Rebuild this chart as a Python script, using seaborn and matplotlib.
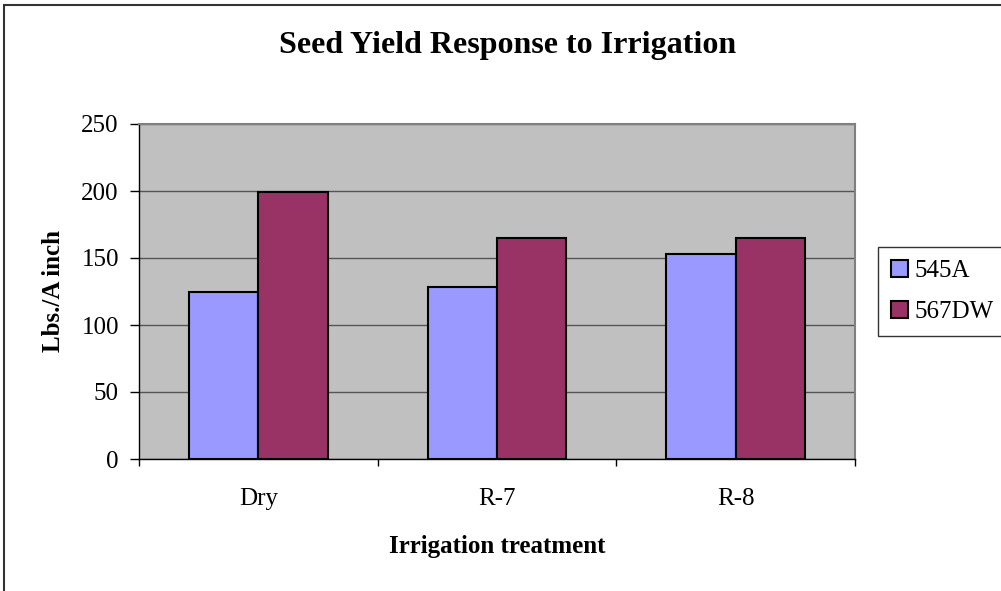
import pandas as pd
import seaborn as sns
import matplotlib.pyplot as plt
from matplotlib.patches import Rectangle

# data
treatments = ["Dry", "R-7", "R-8"]
yield_545a = [125, 128, 153]
yield_567dw = [199, 165, 165]
varieties = ["545A", "567DW"]
colors = ["#9999FF", "#993366"]

df = pd.DataFrame({
    "treatment": treatments * 2,
    "variety": [varieties[0]] * 3 + [varieties[1]] * 3,
    "yield": yield_545a + yield_567dw,
})

sns.set_theme(style="white")
plt.rcParams["font.family"] = ["Liberation Serif", "DejaVu Serif"]
plt.rcParams["text.color"] = "black"
plt.rcParams["axes.labelcolor"] = "black"
plt.rcParams["xtick.color"] = "black"
plt.rcParams["ytick.color"] = "black"

W, H = 1001, 591
fig = plt.figure(figsize=(W / 100, H / 100), dpi=100)

# outer chart border (cut off at right/bottom like the reference)
fig.patches.append(Rectangle((4 / W, -0.1), 1.2, 1 - 5 / H + 0.1,
                             transform=fig.transFigure, fill=False,
                             edgecolor="#333333", linewidth=1.5))

ax = fig.add_axes([139 / W, (H - 459) / H, (855 - 139) / W, (459 - 124) / H])
ax.set_facecolor("#C0C0C0")

sns.barplot(data=df, x="treatment", y="yield", hue="variety",
            palette=colors, saturation=1, edgecolor="black", linewidth=1.5,
            width=0.58, gap=0, ax=ax, legend=True)

ax.set_ylim(0, 250)
ax.set_xlim(-0.5, 2.5)
ax.set_yticks(range(0, 251, 50))
ax.yaxis.grid(True, color="#555555", linewidth=1)
ax.set_axisbelow(True)

for s in ["top", "right"]:
    ax.spines[s].set_color("#808080")
    ax.spines[s].set_linewidth(1.5)
ax.spines["left"].set_color("black")
ax.spines["bottom"].set_color("black")
ax.spines["left"].set_linewidth(1)
ax.spines["bottom"].set_linewidth(1)

ax.tick_params(axis="y", which="major", direction="out", length=6.5,
               width=1, left=True, labelsize=18, pad=8)
ax.tick_params(axis="x", which="major", length=0, labelsize=18, pad=21)
ax.set_xticks([-0.5, 0.5, 1.5, 2.5], minor=True)
ax.tick_params(axis="x", which="minor", direction="out", length=5,
               width=1, bottom=True)

ax.set_xlabel("Irrigation treatment", fontsize=18, fontweight="bold", labelpad=18)
ax.set_ylabel("Lbs./A inch", fontsize=18, fontweight="bold", labelpad=12)
fig.text(508 / W, 1 - 46 / H, "Seed Yield Response to Irrigation",
         ha="center", va="center", fontsize=23, fontweight="bold")

handles, labels = ax.get_legend_handles_labels()
ax.get_legend().remove()
leg = fig.legend(handles, labels, loc="upper left",
                 bbox_to_anchor=(878 / W, 1 - 247 / H),
                 fontsize=18, frameon=True, fancybox=False,
                 edgecolor="black", handlelength=0.7, handleheight=0.7,
                 handletextpad=0.25, labelspacing=0.75, borderpad=0.5,
                 borderaxespad=0)
leg.get_frame().set_linewidth(1)

fig.savefig("out.png", dpi=100)
